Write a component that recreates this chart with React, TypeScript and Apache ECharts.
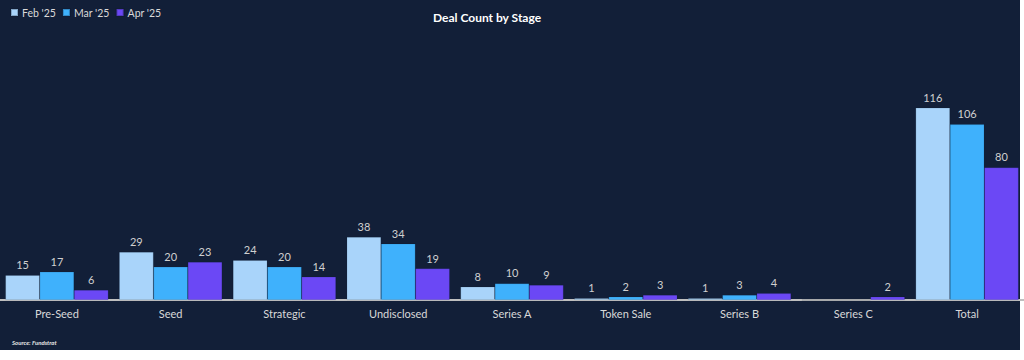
import React, { useEffect, useRef } from "react";
import * as echarts from "echarts";

const categories = ["Pre-Seed", "Seed", "Strategic", "Undisclosed", "Series A", "Token Sale", "Series B", "Series C", "Total"];
const seriesNames = ["Feb '25", "Mar '25", "Apr '25"];
const feb = [15, 29, 24, 38, 8, 1, 1, 0, 116];
const mar = [17, 20, 20, 34, 10, 2, 3, 0, 106];
const apr = [6, 23, 14, 19, 9, 3, 4, 2, 80];
const colors = ["#a9d4fa", "#3fb1fc", "#6b48f5"];

export default function App() {
  const ref = useRef<HTMLDivElement>(null);
  useEffect(() => {
    document.body.style.margin = "0";
    const chart = echarts.init(ref.current!, null, { renderer: "svg" });
    const data = [feb, mar, apr];
    chart.setOption({
      animation: false,
      backgroundColor: "#ffffff",
      textStyle: { fontFamily: "Lato" },
      graphic: [
        { type: "rect", z: -10, silent: true, shape: { x: 0, y: 0, width: 1020, height: 350 }, style: { fill: "#121f38" } },
        { type: "text", left: 12, top: 339, style: { text: "Source: Fundstrat", fill: "#e6e6e6", font: "italic bold 6px Lato" } },
      ],
      title: {
        text: "Deal Count by Stage",
        left: 428,
        top: 6,
        textStyle: { color: "#ffffff", fontSize: 12, fontWeight: "bold", fontFamily: "Lato" },
      },
      legend: {
        left: 5,
        top: 2,
        itemWidth: 7,
        itemHeight: 7,
        itemGap: 6,
        icon: "rect",
        textStyle: { color: "#d9d9d9", fontSize: 10.5, fontFamily: "Lato", padding: [0, 0, 0, -1] },
        data: seriesNames,
      },
      grid: { left: 0, right: 0, top: 68, bottom: 60, containLabel: false },
      xAxis: {
        type: "category",
        data: categories,
        axisTick: { show: false },
        axisLine: { lineStyle: { color: "#bfbfbf", width: 2 } },
        axisLabel: { color: "#d9d9d9", fontSize: 11, margin: 8, fontFamily: "Lato" },
      },
      yAxis: { type: "value", min: 0, max: 140, show: false, splitLine: { show: false } },
      series: seriesNames.map((name, i) => ({
        name,
        type: "bar",
        data: data[i],
        barGap: "0%",
        barCategoryGap: "9.5%",
        itemStyle: { color: colors[i], borderColor: "rgba(10,20,40,0.25)", borderWidth: 0.5 },
        label: {
          show: true,
          position: "top",
          distance: 5,
          color: "#d0d0d0",
          fontSize: 11,
          fontFamily: "Lato",
          formatter: (p: any) => (p.value === 0 ? "" : String(p.value)),
        },
      })),
    });
    return () => chart.dispose();
  }, []);
  return <div ref={ref} style={{ width: 1024, height: 360 }} />;
}
